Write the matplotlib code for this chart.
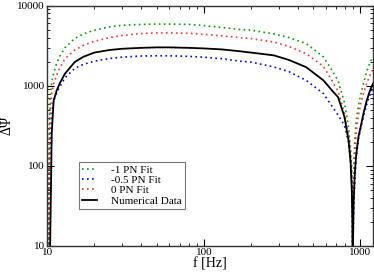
import matplotlib
matplotlib.use("Agg")
import matplotlib.pyplot as plt
from matplotlib.ticker import FixedLocator, FixedFormatter, LogLocator, NullFormatter

plt.rcParams['font.family'] = ['Liberation Serif', 'DejaVu Serif']
plt.rcParams['mathtext.fontset'] = 'stix'

# Frequency grid (Hz) and values
freq = [10.2, 10.3, 10.45, 10.7, 11, 11.5, 12, 13, 15, 17, 20, 25, 30, 40, 50, 60, 80, 100,
        130, 170, 200, 280, 350, 450, 580, 660, 720, 790, 840, 865, 880, 888, 893,
        898, 905, 920, 940, 970, 1000, 1050, 1100, 1150, 1200]

pn_m1 = [5, 250, 700, 1100, 1450, 1900, 2300, 3000, 3900, 4450, 4950, 5450, 5700, 5850, 5900, 5900, 5850, 5650,
         5350, 5050, 4950, 4450, 4000, 3370, 2300, 1550, 1150, 620, 300, 160, 90, 40, 3,
         30, 90, 210, 370, 560, 750, 1100, 1550, 1950, 2300]

pn_m05 = [3, 60, 200, 420, 650, 820, 960, 1260, 1650, 1850, 2030, 2190, 2280, 2355, 2370, 2370, 2330, 2280,
          2180, 2030, 1980, 1720, 1500, 1170, 800, 550, 430, 320, 200, 110, 60, 25, 2,
          12, 30, 70, 130, 210, 290, 430, 600, 770, 950]

pn_0 = [4, 150, 450, 800, 1050, 1350, 1650, 2180, 2800, 3200, 3600, 4000, 4250, 4500, 4580, 4580, 4520, 4400,
        4200, 4000, 3890, 3520, 3100, 2520, 1750, 1150, 850, 460, 240, 130, 70, 30, 3,
        20, 60, 140, 270, 430, 580, 830, 1100, 1350, 1600]

numerical = [2, 5, 10, 250, 650, 870, 1060, 1420, 1980, 2300, 2600, 2800, 2900, 2980, 3020, 3020, 2980, 2930,
             2850, 2700, 2600, 2400, 2100, 1710, 1170, 870, 720, 410, 205, 110, 50, 20, 2,
             15, 36, 80, 140, 230, 300, 470, 670, 870, 1060]

fig = plt.figure(figsize=(3.74, 2.73), dpi=100)
ax = fig.add_axes([0.126, 0.099, 0.871, 0.880])

ax.plot(freq, pn_m1, linestyle=(0, (1, 2)), color='#00a000', lw=1.2, label='-1 PN Fit')
ax.plot(freq, pn_m05, linestyle=(0, (1, 2)), color='#0000ff', lw=1.2, label='-0.5 PN Fit')
ax.plot(freq, pn_0, linestyle=(0, (1, 2)), color='#ff3030', lw=1.2, label='0 PN Fit')
ax.plot(freq, numerical, color='black', lw=1.3, label='Numerical Data')

ax.set_xscale('log')
ax.set_yscale('log')
ax.set_xlim(10, 1200)
ax.set_ylim(10, 10000)

ax.xaxis.set_major_locator(FixedLocator([10, 100, 1000]))
ax.xaxis.set_major_formatter(FixedFormatter(['10', '100', '1000']))
ax.yaxis.set_major_locator(FixedLocator([10, 100, 1000, 10000]))
ax.yaxis.set_major_formatter(FixedFormatter(['10', '100', '1000', '10000']))
ax.xaxis.set_minor_locator(LogLocator(base=10, subs=range(2, 10)))
ax.yaxis.set_minor_locator(LogLocator(base=10, subs=range(2, 10)))
ax.xaxis.set_minor_formatter(NullFormatter())
ax.yaxis.set_minor_formatter(NullFormatter())

ax.tick_params(which='both', direction='in', top=True, right=True, labelsize=8, pad=1.5)
ax.tick_params(which='major', length=5, width=0.8)
ax.tick_params(which='minor', length=2.5, width=0.6)
for s in ax.spines.values():
    s.set_linewidth(1.0)
    s.set_color('#333333')

ax.set_xlabel('f [Hz]', fontsize=10, labelpad=0)
ax.set_ylabel('ΔΨ', fontsize=10, labelpad=3)

leg = ax.legend(loc='lower left', bbox_to_anchor=(0.098, 0.154), fontsize=8, frameon=True,
                fancybox=False, edgecolor='#555555', handlelength=1.3, handletextpad=1.3,
                labelspacing=0.05, borderpad=0.3, borderaxespad=0)
leg.get_frame().set_linewidth(0.8)

fig.savefig('out.png', dpi=100)
